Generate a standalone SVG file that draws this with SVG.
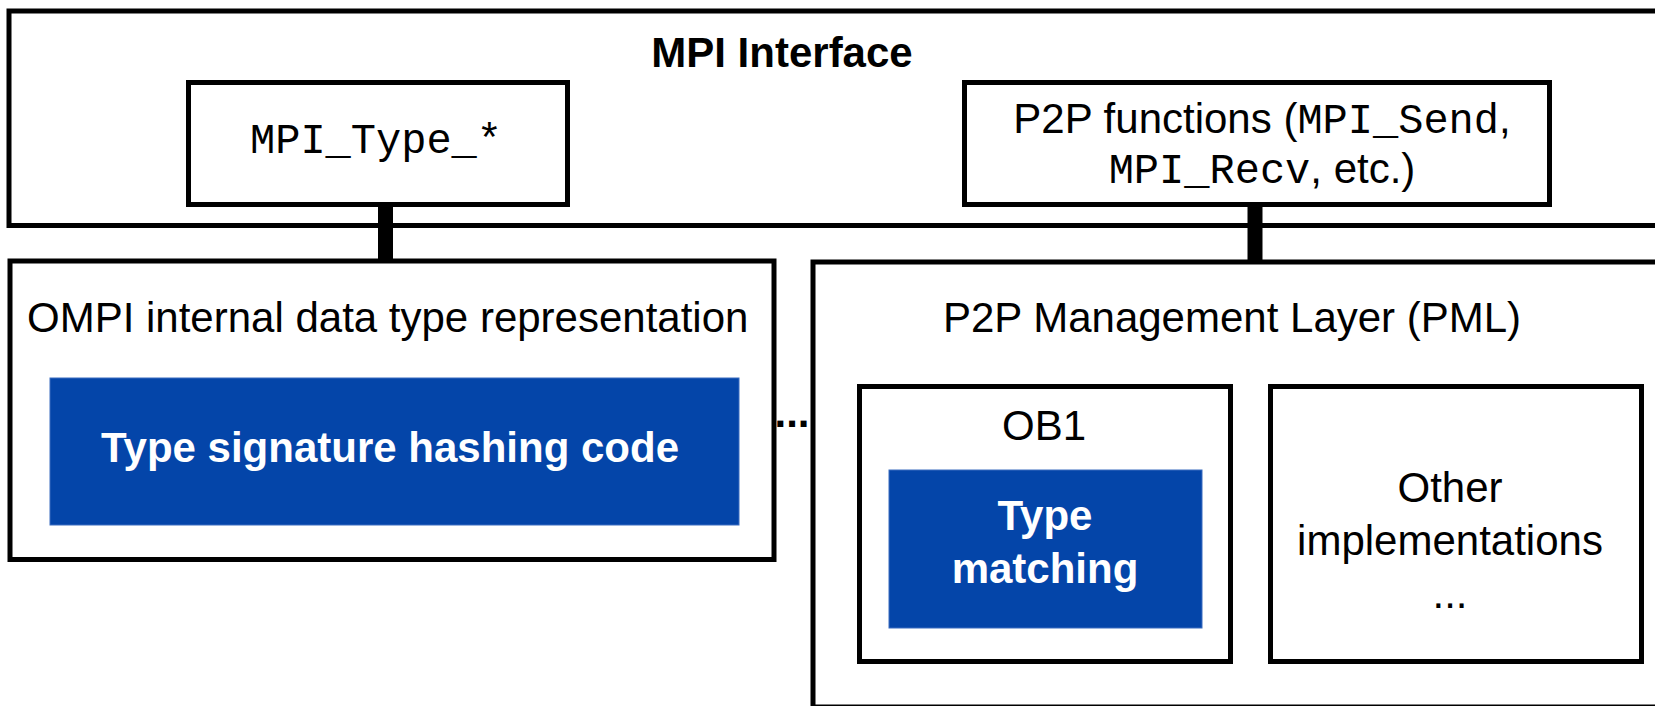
<svg xmlns="http://www.w3.org/2000/svg" width="1655" height="706" viewBox="0 0 1655 706">
  <style>
    .box { fill: #ffffff; stroke: #000000; stroke-width: 5; }
    .blue { fill: #0445A9; stroke: #3a6cc0; stroke-width: 1; }
    .t { font-family: "Liberation Sans", Arial, sans-serif; font-size: 42px; fill: #000000; }
    .b { font-weight: bold; }
    .w { fill: #ffffff; font-weight: bold; }
    .m { font-family: "Liberation Mono", "Courier New", monospace; }
    .conn { stroke: #000000; stroke-width: 15; fill: none; }
  </style>
  <rect width="1655" height="706" fill="#ffffff"/>

  <g id="mpi-interface">
    <rect class="box" x="9" y="11" width="1680" height="214.5"/>
    <text class="t b" x="782" y="67" text-anchor="middle">MPI Interface</text>
  </g>

  <g id="connectors">
    <line class="conn" x1="385.5" y1="206" x2="385.5" y2="262"/>
    <line class="conn" x1="1255" y1="206" x2="1255" y2="262"/>
  </g>

  <g id="mpi-type">
    <rect class="box" x="188.5" y="82.5" width="379" height="122"/>
    <text class="t m" x="376" y="153" text-anchor="middle">MPI_Type_*</text>
  </g>

  <g id="p2p-functions">
    <rect class="box" x="964.5" y="82.5" width="585" height="122"/>
    <text class="t" x="1262" y="133" text-anchor="middle">P2P functions (<tspan class="m">MPI_Send</tspan>,</text>
    <text class="t" x="1262" y="183" text-anchor="middle"><tspan class="m">MPI_Recv</tspan>, etc.)</text>
  </g>

  <g id="ompi">
    <rect class="box" x="10" y="261" width="764" height="298.5"/>
    <text class="t" x="27" y="332">OMPI internal data type representation</text>
  </g>

  <g id="hashing">
    <rect class="blue" x="50" y="378" width="689" height="147"/>
    <text class="t w" x="390" y="462" text-anchor="middle">Type signature hashing code</text>
  </g>

  <g id="ellipsis">
    <text class="t b" x="792" y="427" text-anchor="middle">...</text>
  </g>

  <g id="pml">
    <rect class="box" x="813" y="262" width="900" height="445"/>
    <text class="t" x="1232" y="332" text-anchor="middle">P2P Management Layer (PML)</text>
  </g>

  <g id="ob1">
    <rect class="box" x="859.5" y="386.5" width="371" height="275"/>
    <text class="t" x="1044" y="440" text-anchor="middle">OB1</text>
  </g>

  <g id="type-matching">
    <rect class="blue" x="889" y="470" width="313" height="158"/>
    <text class="t w" x="1045" y="530" text-anchor="middle">Type</text>
    <text class="t w" x="1045" y="583" text-anchor="middle">matching</text>
  </g>

  <g id="other">
    <rect class="box" x="1270.5" y="386.5" width="371" height="275"/>
    <text class="t" x="1450" y="502" text-anchor="middle">Other</text>
    <text class="t" x="1450" y="555" text-anchor="middle">implementations</text>
    <text class="t" x="1450" y="608" text-anchor="middle">...</text>
  </g>
</svg>
